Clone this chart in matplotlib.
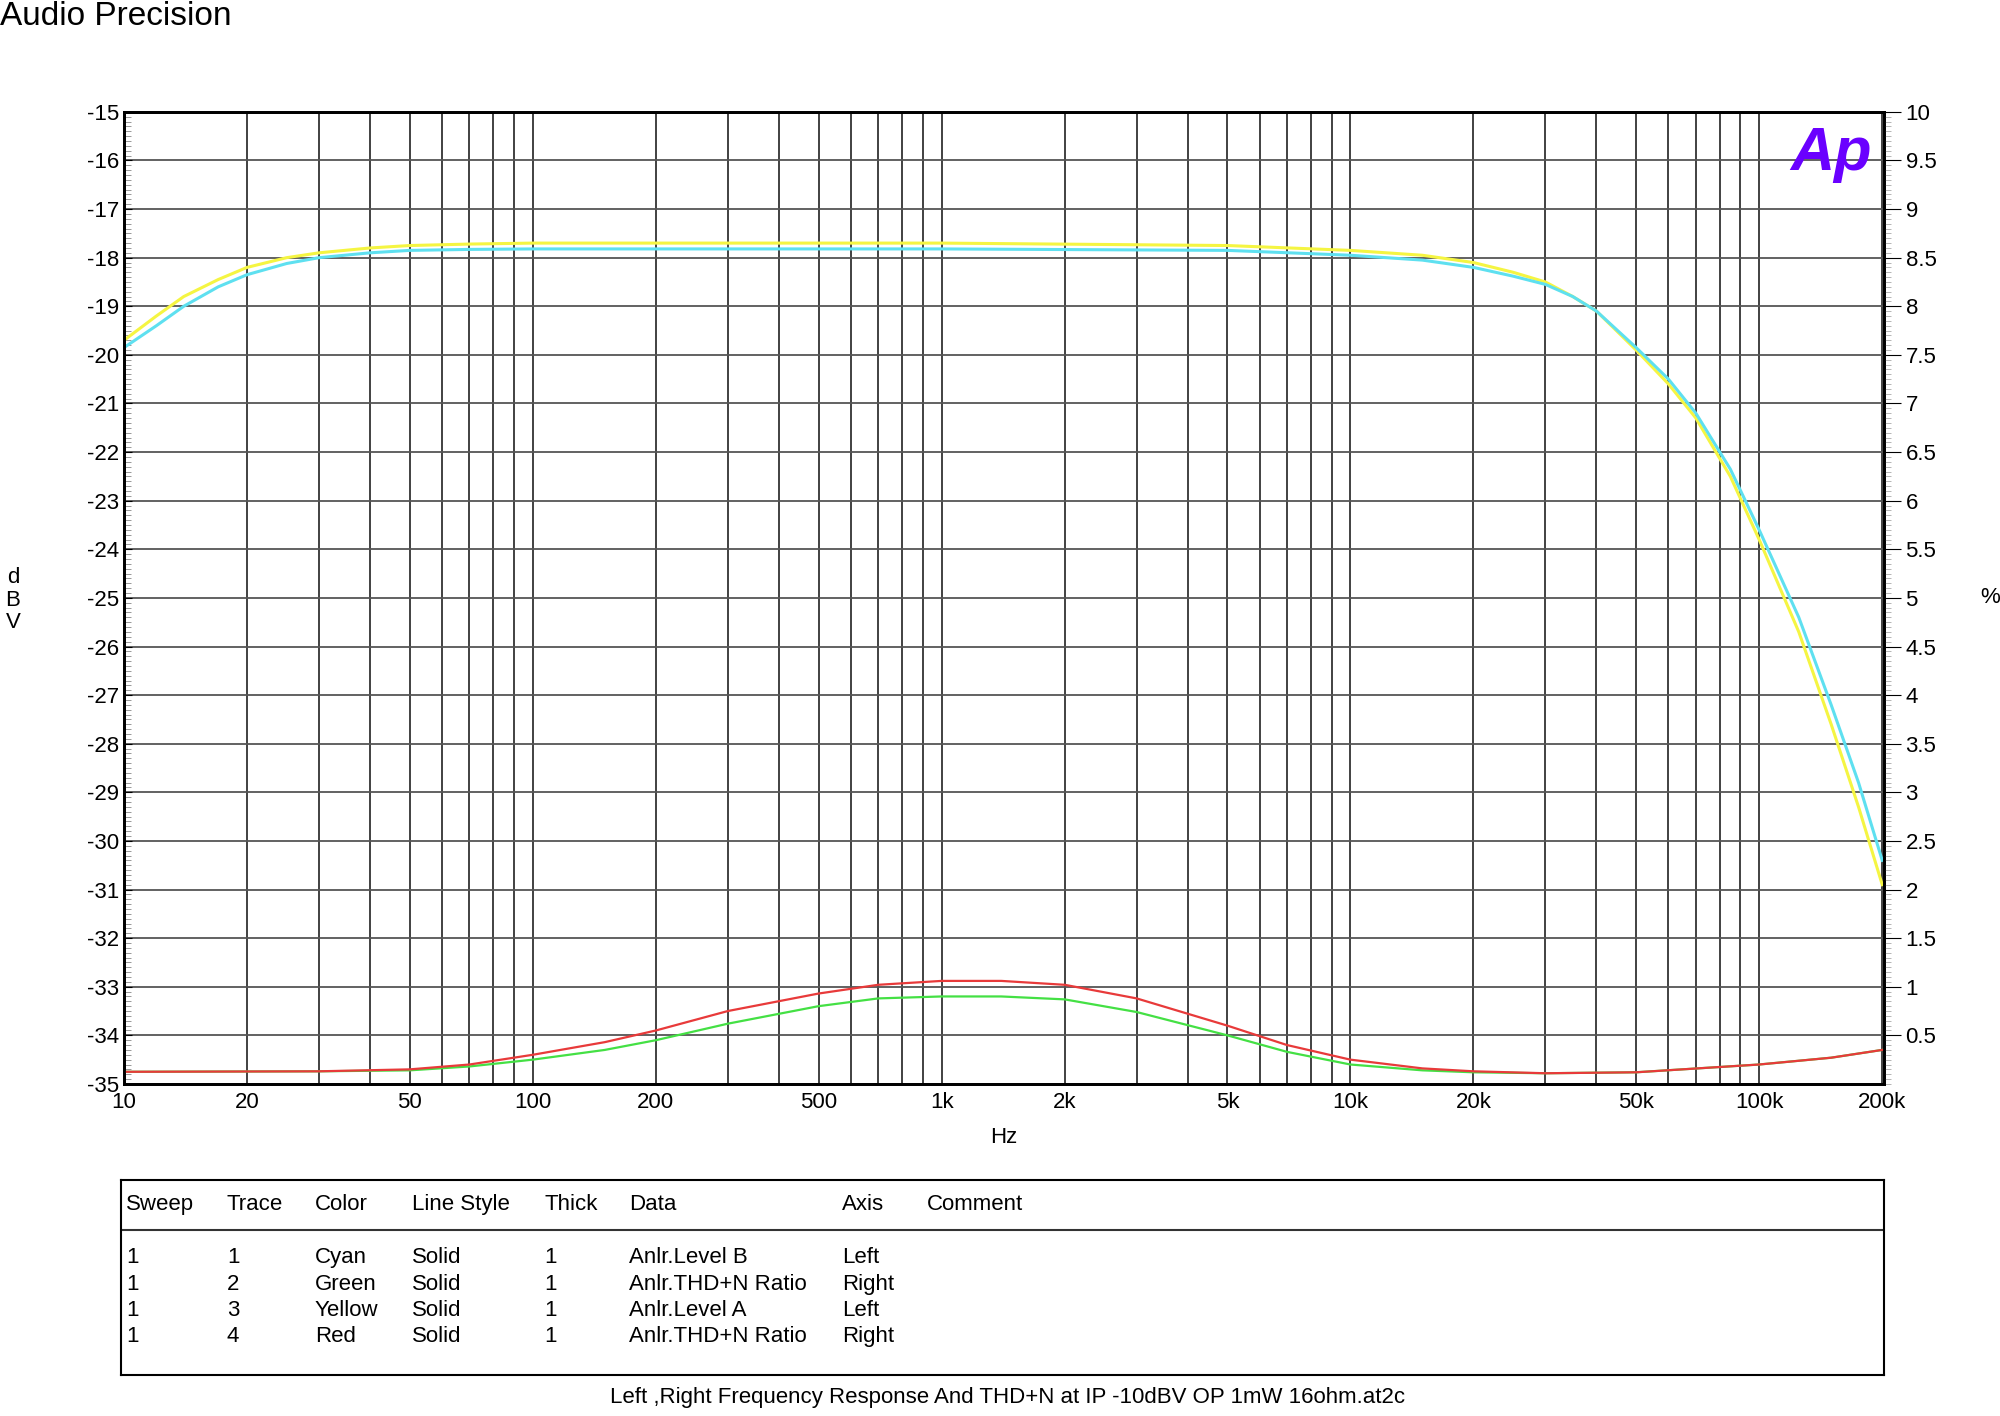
import numpy as np
import matplotlib.pyplot as plt
from matplotlib.ticker import FixedLocator, MultipleLocator, NullFormatter

plt.rcParams['font.family'] = ['Liberation Sans', 'DejaVu Sans']
plt.rcParams['axes.unicode_minus'] = False

# === DATA ===
freq_lvl = [10, 12, 14, 17, 20, 25, 30, 40, 50, 70, 100, 1000, 5000, 10000,
            15000, 20000, 25000, 30000, 35000, 40000, 50000, 60000, 70000,
            85000, 100000, 125000, 150000, 175000, 200000]
level_a = [-19.7, -19.2, -18.8, -18.45, -18.2, -18.0, -17.9, -17.8, -17.75,
           -17.72, -17.7, -17.7, -17.75, -17.85, -17.95, -18.1, -18.3, -18.5,
           -18.8, -19.1, -19.9, -20.6, -21.3, -22.5, -23.8, -25.7, -27.6,
           -29.3, -30.9]  # yellow
level_b = [-19.85, -19.4, -19.0, -18.6, -18.35, -18.12, -18.0, -17.9, -17.85,
           -17.83, -17.82, -17.82, -17.85, -17.95, -18.05, -18.2, -18.38, -18.55,
           -18.8, -19.1, -19.85, -20.5, -21.2, -22.35, -23.6, -25.4, -27.2,
           -28.8, -30.4]  # cyan

freq_thd = [10, 30, 50, 70, 100, 150, 200, 300, 500, 700, 1000, 1400, 2000,
            3000, 5000, 7000, 10000, 15000, 20000, 30000, 50000, 100000,
            150000, 200000]
thd_red = [0.125, 0.13, 0.15, 0.2, 0.3, 0.43, 0.55, 0.75, 0.93, 1.02, 1.06,
           1.06, 1.02, 0.88, 0.6, 0.4, 0.25, 0.16, 0.13, 0.11, 0.12, 0.2,
           0.27, 0.35]
thd_green = [0.125, 0.13, 0.14, 0.18, 0.25, 0.35, 0.45, 0.62, 0.8, 0.88, 0.9,
             0.9, 0.87, 0.74, 0.5, 0.33, 0.2, 0.14, 0.12, 0.11, 0.12, 0.2,
             0.27, 0.35]

x_ticks = [10, 20, 50, 100, 200, 500, 1000, 2000, 5000, 10000, 20000, 50000,
           100000, 200000]
x_labels = ['10', '20', '50', '100', '200', '500', '1k', '2k', '5k', '10k',
            '20k', '50k', '100k', '200k']

table_header = ['Sweep', 'Trace', 'Color', 'Line Style', 'Thick', 'Data', 'Axis', 'Comment']
table_rows = [
    ['1', '1', 'Cyan', 'Solid', '1', 'Anlr.Level B', 'Left', ''],
    ['1', '2', 'Green', 'Solid', '1', 'Anlr.THD+N Ratio', 'Right', ''],
    ['1', '3', 'Yellow', 'Solid', '1', 'Anlr.Level A', 'Left', ''],
    ['1', '4', 'Red', 'Solid', '1', 'Anlr.THD+N Ratio', 'Right', ''],
]

# === Plot ===
fig = plt.figure(figsize=(20, 14.16), dpi=100)
ax = fig.add_axes([0.062, 0.2345, 0.880, 0.6865])
ax.set_xscale('log')
ax.set_xlim(10, 202000)
ax.set_ylim(-35, -15)

ax2 = ax.twinx()
ax2.set_ylim(0, 10)

ax.plot(freq_lvl, level_a, color='#f5f542', lw=2.2)
ax.plot(freq_lvl, level_b, color='#5ee0f0', lw=2.2)
ax2.plot(freq_thd, thd_green, color='#44e044', lw=1.6)
ax2.plot(freq_thd, thd_red, color='#e83a3a', lw=1.6)

ax.xaxis.set_major_locator(FixedLocator(x_ticks))
ax.set_xticklabels(x_labels)
minor = [m * 10 ** d for d in range(1, 6) for m in range(2, 10)
         if m * 10 ** d not in x_ticks and m * 10 ** d <= 200000]
ax.xaxis.set_minor_locator(FixedLocator(minor))
ax.xaxis.set_minor_formatter(NullFormatter())
ax.grid(True, which='both', axis='x', color='#333333', lw=1.3)
ax.yaxis.set_major_locator(MultipleLocator(1))
ax.yaxis.set_minor_locator(MultipleLocator(0.1))
ax.grid(True, which='major', axis='y', color='#555555', lw=1.3)
ax.tick_params(axis='x', which='both', length=0, labelsize=16, pad=6)
ax.tick_params(axis='y', which='major', length=6, labelsize=16, direction='in')
ax.tick_params(axis='y', which='minor', length=5, direction='in', color='#888888')

ax2.yaxis.set_major_locator(FixedLocator(np.arange(0.5, 10.01, 0.5)))
ax2.set_yticklabels([f'{v:g}' for v in np.arange(0.5, 10.01, 0.5)])
ax2.yaxis.set_minor_locator(MultipleLocator(0.05))
ax2.tick_params(axis='y', which='major', length=12, labelsize=16, direction='out')
ax2.tick_params(axis='y', which='minor', length=5, direction='out', color='#aaaaaa')
for a in (ax, ax2):
    for s in a.spines.values():
        s.set_linewidth(2)

ax.set_xlabel('Hz', fontsize=16, labelpad=10)
fig.text(0.0065, 0.576, 'd\nB\nV', fontsize=16, ha='center', va='center', linespacing=1.1)
fig.text(0.995, 0.578, '%', fontsize=16, ha='center', va='center')
fig.text(0.0, 0.988, 'Audio Precision', fontsize=24, ha='left', va='center')
ax.text(0.993, 0.985, 'Ap', transform=ax.transAxes, fontsize=44, fontweight='bold',
        fontstyle='italic', color='#6a00ff', ha='right', va='top')

# === Legend table ===
tab = fig.add_axes([0.0605, 0.029, 0.8815, 0.138])
tab.set_xlim(0, 1)
tab.set_ylim(0, 1)
tab.set_xticks([])
tab.set_yticks([])
for s in tab.spines.values():
    s.set_linewidth(1.5)
col_x = [0.003, 0.060, 0.110, 0.165, 0.240, 0.288, 0.409, 0.457]
tab.axhline(0.74, color='#333333', lw=1.5)
for cx, h in zip(col_x, table_header):
    tab.text(cx, 0.87, h, fontsize=16, va='center')
for i, row in enumerate(table_rows):
    y = 0.60 - i * 0.135
    for cx, v in zip(col_x, row):
        tab.text(cx, y, v, fontsize=16, va='center')

fig.text(0.504, 0.013, 'Left ,Right Frequency Response And THD+N at IP -10dBV OP 1mW 16ohm.at2c',
         fontsize=16, ha='center', va='center')

fig.savefig('out.png', dpi=100)
